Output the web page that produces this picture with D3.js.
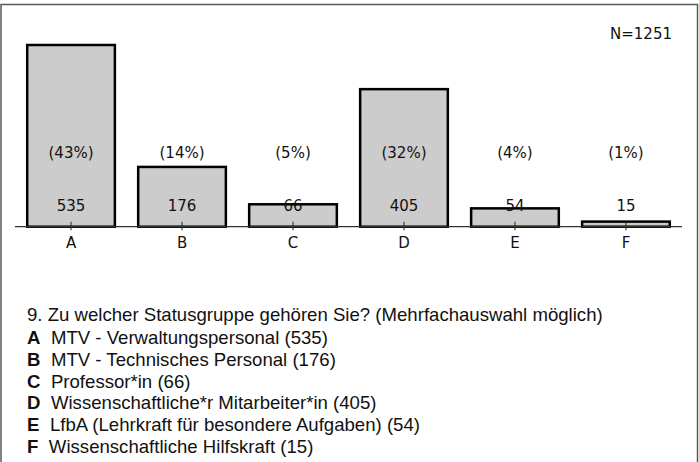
<!DOCTYPE html>
<html>
<head>
<meta charset="utf-8">
<script src="https://cdn.jsdelivr.net/npm/d3@7/dist/d3.min.js"></script>
<style>
  html, body { margin: 0; padding: 0; background: #fff; }
  svg { display: block; }
</style>
</head>
<body>
<script>
// Survey question 9: status groups (multiple answers allowed)
const categories = ["A", "B", "C", "D", "E", "F"];
const counts = [535, 176, 66, 405, 54, 15];
const percents = ["(43%)", "(14%)", "(5%)", "(32%)", "(4%)", "(1%)"];
const totalLabel = "N=1251";
const question = "9. Zu welcher Statusgruppe gehören Sie? (Mehrfachauswahl möglich)";
const descriptions = [
  "MTV - Verwaltungspersonal",
  "MTV - Technisches Personal",
  "Professor*in",
  "Wissenschaftliche*r Mitarbeiter*in",
  "LfbA (Lehrkraft für besondere Aufgaben)",
  "Wissenschaftliche Hilfskraft"
];

const W = 699, H = 462;
const svg = d3.select("body").append("svg").attr("width", W).attr("height", H);

// outer frame (open at the bottom)
svg.append("rect")
  .attr("x", 1).attr("y", 4.5)
  .attr("width", 696.5).attr("height", 520)
  .attr("fill", "none").attr("stroke", "#5a5a5a").attr("stroke-width", 1.5);

const x = d3.scaleBand().domain(categories).range([15, 682])
  .paddingInner(0.21).paddingOuter(0.11);
const y = d3.scaleLinear().domain([0, d3.max(counts)]).range([226.7, 45]);

const chartFont = "'DejaVu Sans', sans-serif";

// bars
svg.append("g").selectAll("rect")
  .data(categories)
  .join("rect")
  .attr("x", d => x(d))
  .attr("width", x.bandwidth())
  .attr("y", (d, i) => y(counts[i]))
  .attr("height", (d, i) => y(0) - y(counts[i]))
  .attr("fill", "#cccccc")
  .attr("stroke", "#000")
  .attr("stroke-width", 2.5);

// baseline axis with centre ticks
const axis = svg.append("g").attr("transform", `translate(0,${y(0)})`)
  .call(d3.axisBottom(x).tickSize(0).tickPadding(0));
axis.select(".domain").remove();
axis.selectAll(".tick text").remove();
axis.append("line")
  .attr("x1", 15).attr("x2", 682).attr("y1", 0).attr("y2", 0)
  .attr("stroke", "#333").attr("stroke-width", 1.2);
axis.selectAll(".tick").append("line")
  .attr("y1", -5).attr("y2", 3.5)
  .attr("stroke", "#222").attr("stroke-width", 1);
axis.selectAll(".tick").append("text")
  .attr("y", 21.5)
  .attr("text-anchor", "middle")
  .attr("fill", "#111")
  .style("font-family", chartFont).style("font-size", "15px")
  .text(d => d);

// percentage labels
svg.append("g").selectAll("text")
  .data(categories)
  .join("text")
  .attr("x", d => x(d) + x.bandwidth() / 2)
  .attr("y", 157.5)
  .attr("text-anchor", "middle")
  .attr("fill", "#111")
  .style("font-family", chartFont).style("font-size", "15px")
  .text((d, i) => percents[i]);

// count labels
svg.append("g").selectAll("text")
  .data(categories)
  .join("text")
  .attr("x", d => x(d) + x.bandwidth() / 2)
  .attr("y", 211)
  .attr("text-anchor", "middle")
  .attr("fill", "#111")
  .style("font-family", chartFont).style("font-size", "15px")
  .text((d, i) => counts[i]);

// sample size
svg.append("text")
  .attr("x", 672).attr("y", 39.3)
  .attr("text-anchor", "end")
  .attr("fill", "#111")
  .style("font-family", chartFont).style("font-size", "15px")
  .text(totalLabel);

// legend block
const legendFont = "'Liberation Sans', Arial, sans-serif";
const legend = svg.append("g")
  .style("font-family", legendFont).style("font-size", "18.6px").attr("fill", "#111");
legend.append("text").attr("x", 27).attr("y", 320.7).text(question);
const rows = legend.selectAll("text.row")
  .data(categories)
  .join("text")
  .attr("class", "row")
  .attr("x", 27)
  .attr("y", (d, i) => 344.3 + i * 21.7);
rows.append("tspan").style("font-weight", "bold").text(d => d);
rows.append("tspan").attr("dx", 10.5)
  .text((d, i) => `${descriptions[i]} (${counts[i]})`);
</script>
</body>
</html>
